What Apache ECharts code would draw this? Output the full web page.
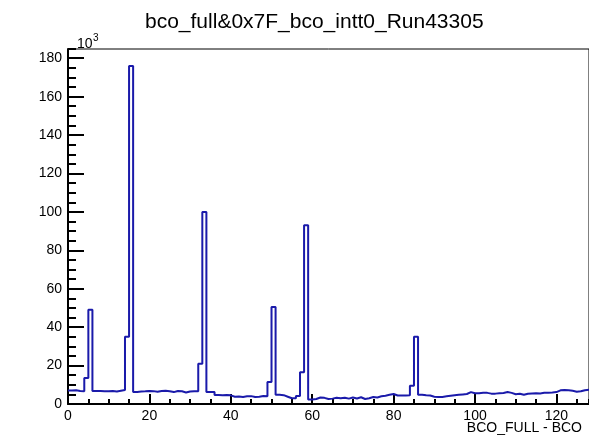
<!DOCTYPE html>
<html>
<head>
<meta charset="utf-8">
<title>bco_full&amp;0x7F_bco_intt0_Run43305</title>
<script src="https://cdn.jsdelivr.net/npm/echarts@6/dist/echarts.min.js"></script>
<style>
  html, body { margin: 0; padding: 0; background: #ffffff; }
  #chart { width: 589px; height: 437px; }
</style>
</head>
<body>
<div id="chart"></div>
<script>
// Histogram binning: 128 unit-wide bins starting at 0
const binLow = 0;
const binWidth = 1;

// Entries per bin, in units of 10^3
const counts = [
  7.0, 7.2, 6.8, 6.6, 13.5, 49.0,
  6.8, 6.8, 6.7, 6.6, 6.8, 6.5, 6.9, 7.3,
  35.0, 176.0,
  6.3, 6.5, 6.6, 6.8, 6.7, 6.4, 6.8, 6.9, 6.6, 6.2, 6.8, 6.6, 6.0, 6.5, 6.6, 6.7,
  21.0, 100.0,
  6.3, 6.2, 4.7, 4.6, 4.7, 4.5, 3.8, 3.9, 3.7, 4.0, 4.1, 3.6, 3.8, 4.2, 4.0,
  11.5, 50.5,
  4.8, 4.6, 3.8, 3.0, 3.0, 4.2,
  16.5, 93.0,
  2.4, 2.6, 3.4, 3.2, 2.6, 2.8, 3.3, 3.0, 3.3, 2.8, 3.4, 2.9, 3.5, 2.6, 3.0, 3.6,
  3.4, 4.0, 4.3, 4.8, 5.2, 4.4, 4.4, 4.4, 4.6,
  9.5, 35.0,
  4.8, 4.5, 4.4, 3.8, 3.6, 3.7, 4.0, 4.3, 4.6, 4.8, 5.0, 5.2, 6.2, 5.6,
  5.6, 5.8, 5.8, 5.4, 5.4, 5.6, 5.7, 6.2, 5.8, 5.1, 5.3, 4.8, 5.3, 5.5, 5.6, 5.5,
  5.8, 5.9, 6.0, 6.2, 7.1, 7.3, 7.2, 6.9, 6.4, 6.6, 7.2, 7.4
];

// Axis ranges and tick spacing
const xRange = [0, 128];
const yRange = [0, 184.8];
const xMajorStep = 20, xMinorStep = 5;
const yMajorStep = 20, yMinorStep = 5;

// Texts
const histTitle = 'bco_full&0x7F_bco_intt0_Run43305';
const xTitle = 'BCO_FULL - BCO';
const yExpBase = '10';
const yExpPower = '3';

// Step outline: one point per lower bin edge plus the closing upper edge
const outline = counts.map((v, i) => [binLow + i * binWidth, v]);
outline.push([binLow + counts.length * binWidth, counts[counts.length - 1]]);

const FONT = 'Liberation Sans, Arial, sans-serif';
const axisFont = { fontFamily: FONT, fontSize: 14, color: '#000' };
const plainText = size => ({ fontFamily: FONT, fontSize: size, fontWeight: 'normal', color: '#000' });
const onlyMajor = step => v => (Math.abs(v / step - Math.round(v / step)) < 1e-6 ? String(Math.round(v)) : '');

const chart = echarts.init(document.getElementById('chart'), null, { renderer: 'canvas' });

chart.setOption({
  animation: false,
  backgroundColor: '#ffffff',
  title: [
    { text: histTitle, left: 145, top: 12, padding: 0, textStyle: plainText(21) },
    { text: yExpBase, left: 77, top: 37, padding: 0, textStyle: plainText(14) },
    { text: yExpPower, left: 93, top: 33, padding: 0, textStyle: plainText(10) },
    { text: xTitle, right: 7, top: 421, padding: 0, textStyle: plainText(14) }
  ],
  grid: {
    left: 68, top: 49, right: -3, bottom: 33,
    show: true, borderColor: '#000', borderWidth: 1, backgroundColor: 'transparent'
  },
  xAxis: [
    {
      type: 'value', position: 'bottom',
      min: xRange[0], max: xRange[1], interval: xMajorStep,
      axisLine: { show: true, onZero: false, lineStyle: { color: '#000', width: 2 } },
      axisTick: { show: true, inside: true, length: 10, lineStyle: { color: '#000', width: 2 } },
      axisLabel: { ...axisFont, margin: 5, formatter: onlyMajor(xMajorStep), showMaxLabel: false },
      splitLine: { show: false }
    },
    {
      type: 'value', position: 'bottom',
      min: xRange[0], max: xRange[1], interval: xMinorStep,
      axisLine: { show: false, onZero: false },
      axisTick: { show: true, inside: true, length: 5, lineStyle: { color: '#000', width: 2 } },
      axisLabel: { show: false },
      splitLine: { show: false }
    }
  ],
  yAxis: [
    {
      type: 'value', position: 'left',
      min: yRange[0], max: yRange[1], interval: yMajorStep,
      axisLine: { show: true, onZero: false, lineStyle: { color: '#000', width: 2 } },
      axisTick: { show: true, inside: true, length: 16, lineStyle: { color: '#000', width: 2 } },
      axisLabel: { ...axisFont, margin: 6, formatter: onlyMajor(yMajorStep), showMaxLabel: false },
      splitLine: { show: false }
    },
    {
      type: 'value', position: 'left',
      min: yRange[0], max: yRange[1], interval: yMinorStep,
      axisLine: { show: false, onZero: false },
      axisTick: { show: true, inside: true, length: 8, lineStyle: { color: '#000', width: 2 } },
      axisLabel: { show: false },
      splitLine: { show: false }
    }
  ],
  series: [
    {
      type: 'line',
      xAxisIndex: 0, yAxisIndex: 0,
      data: outline,
      step: 'end',
      symbol: 'none',
      lineStyle: { color: '#1a1aaa', width: 2 },
      clip: true,
      silent: true
    }
  ]
});
</script>
</body>
</html>
